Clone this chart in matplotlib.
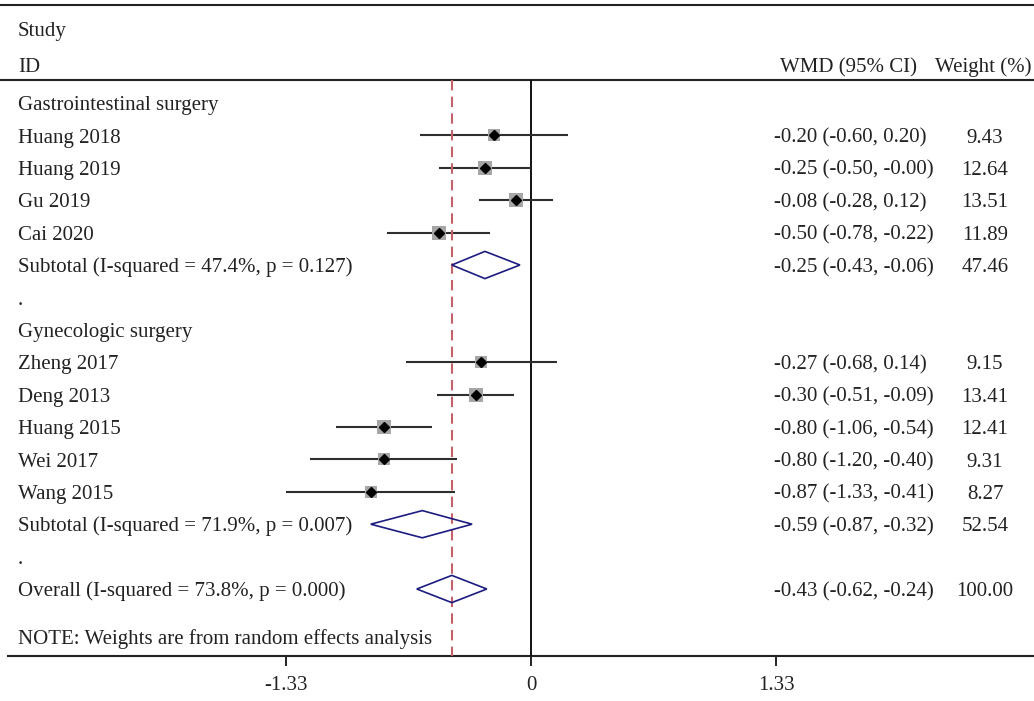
import matplotlib
matplotlib.use("Agg")
import matplotlib.pyplot as plt
from matplotlib.patches import Polygon

# ---------------- data ----------------
group_names = ["Gastrointestinal surgery", "Gynecologic surgery"]

gi_studies = ["Huang 2018", "Huang 2019", "Gu 2019", "Cai 2020"]
gi_est = [-0.20, -0.25, -0.08, -0.50]
gi_lo = [-0.60, -0.50, -0.28, -0.78]
gi_hi = [0.20, -0.00, 0.12, -0.22]
gi_wt = [9.43, 12.64, 13.51, 11.89]
gi_wt_lbl = ["9.43", "12.64", "13.51", "11.89"]
gi_ci_lbl = ["-0.20 (-0.60, 0.20)", "-0.25 (-0.50, -0.00)", "-0.08 (-0.28, 0.12)",
             "-0.50 (-0.78, -0.22)"]

gy_studies = ["Zheng 2017", "Deng 2013", "Huang 2015", "Wei 2017", "Wang 2015"]
gy_est = [-0.27, -0.30, -0.80, -0.80, -0.87]
gy_lo = [-0.68, -0.51, -1.06, -1.20, -1.33]
gy_hi = [0.14, -0.09, -0.54, -0.40, -0.41]
gy_wt = [9.15, 13.41, 12.41, 9.31, 8.27]
gy_wt_lbl = ["9.15", "13.41", "12.41", "9.31", "8.27"]
gy_ci_lbl = ["-0.27 (-0.68, 0.14)", "-0.30 (-0.51, -0.09)", "-0.80 (-1.06, -0.54)",
             "-0.80 (-1.20, -0.40)", "-0.87 (-1.33, -0.41)"]

sub_labels = ["Subtotal (I-squared = 47.4%, p = 0.127)", "Subtotal (I-squared = 71.9%, p = 0.007)"]
sub_est = [-0.25, -0.59]
sub_lo = [-0.43, -0.87]
sub_hi = [-0.06, -0.32]
sub_ci_lbl = ["-0.25 (-0.43, -0.06)", "-0.59 (-0.87, -0.32)"]
sub_wt_lbl = ["47.46", "52.54"]

overall_label = "Overall (I-squared = 73.8%, p = 0.000)"
overall_est = -0.43
overall_lo = -0.62
overall_hi = -0.24
overall_ci_lbl = "-0.43 (-0.62, -0.24)"
overall_wt_lbl = "100.00"

note_text = "NOTE: Weights are from random effects analysis"
xticks = [-1.33, 0, 1.33]
xtick_labels = ["-1.33", "0", "1.33"]

# ---------------- layout ----------------
W, H = 1034, 701
fig = plt.figure(figsize=(W / 100, H / 100), dpi=100)
ax = fig.add_axes([0, 0, 1, 1])
ax.set_axis_off()

PX0 = 531.0      # pixel of x=0
PXU = 184.2      # pixels per unit
ROW0 = 103.0     # pixel of row 0
ROWH = 32.4      # pixels per row


def px2x(p):
    return (p - PX0) / PXU


def py2r(p):
    return (p - ROW0) / ROWH


ax.set_xlim(px2x(0), px2x(W))
ax.set_ylim(py2r(H), py2r(0))

plt.rcParams["font.family"] = ["Liberation Serif", "DejaVu Serif"]
FS = 15
TC = "#222222"
BASE = 0.22  # baseline offset in rows

sq_col = "#a5a7a5"
ci_col = "#2e2e2e"
dia_col = "#1c1c80"


def label(r, txt, xpx, ha="left"):
    ax.text(px2x(xpx), r + BASE, txt, ha=ha, va="baseline", fontsize=FS, color=TC)


def right_cols(r, ci, wt):
    if ci:
        label(r, ci, 774)
    if wt:
        label(r, wt, 985, ha="center")


def study_row(r, name, est, lo, hi, wt, ci, wl):
    label(r, name, 18)
    ax.plot([lo, hi], [r, r], color=ci_col, lw=1.5, zorder=3, solid_capstyle="butt")
    ax.scatter([est], [r], marker="s", s=8.5 * wt, color=sq_col, zorder=4, linewidths=0)
    ax.plot([est], [r], marker="D", ms=4.6, color="black", zorder=5)
    right_cols(r, ci, wl)


def pooled_row(r, name, est, lo, hi, ci, wl):
    label(r, name, 18)
    hh = 0.42
    poly = Polygon([[lo, r], [est, r - hh], [hi, r], [est, r + hh]], closed=True,
                   fill=False, edgecolor=dia_col, lw=1.2, zorder=6)
    ax.add_patch(poly)
    right_cols(r, ci, wl)


# header
label(py2r(28.5), "Study", 18)
label(py2r(65), "ID", 18)
ax.text(px2x(917), py2r(65) + BASE, "WMD (95% CI)", ha="right", va="baseline",
        fontsize=FS, color=TC)
label(py2r(65), "Weight (%)", 935)

# lines
ax.hlines(py2r(5), px2x(0), px2x(W), color="#222222", lw=1.5)
ax.hlines(py2r(80), px2x(0), px2x(W), color="#222222", lw=1.5)
y_bot = py2r(656)
ax.hlines(y_bot, px2x(7), px2x(W), color="#222222", lw=1.5)
ax.vlines(0, py2r(80), y_bot, color="#111111", lw=1.4, zorder=2)
ax.vlines(overall_est, py2r(80), y_bot, color="#c4626c", lw=1.5,
          linestyles=(0, (5, 3)), zorder=4.5)

# ticks
for t, tl in zip(xticks, xtick_labels):
    ax.vlines(t, y_bot, py2r(666), color="#222222", lw=1.4)
    ax.text(t, py2r(686), tl, ha="center", va="center", fontsize=FS, color=TC)

# group 1
r = 0
label(r, group_names[0], 18)
for i in range(len(gi_studies)):
    r += 1
    study_row(r, gi_studies[i], gi_est[i], gi_lo[i], gi_hi[i], gi_wt[i], gi_ci_lbl[i], gi_wt_lbl[i])
r += 1
pooled_row(r, sub_labels[0], sub_est[0], sub_lo[0], sub_hi[0], sub_ci_lbl[0], sub_wt_lbl[0])
r += 1
label(r, ".", 18)

# group 2
r += 1
label(r, group_names[1], 18)
for i in range(len(gy_studies)):
    r += 1
    study_row(r, gy_studies[i], gy_est[i], gy_lo[i], gy_hi[i], gy_wt[i], gy_ci_lbl[i], gy_wt_lbl[i])
r += 1
pooled_row(r, sub_labels[1], sub_est[1], sub_lo[1], sub_hi[1], sub_ci_lbl[1], sub_wt_lbl[1])
r += 1
label(r, ".", 18)

# overall
r += 1
pooled_row(r, overall_label, overall_est, overall_lo, overall_hi, overall_ci_lbl, overall_wt_lbl)

label(py2r(636.5), note_text, 18)

fig.savefig("out.png", dpi=100)
